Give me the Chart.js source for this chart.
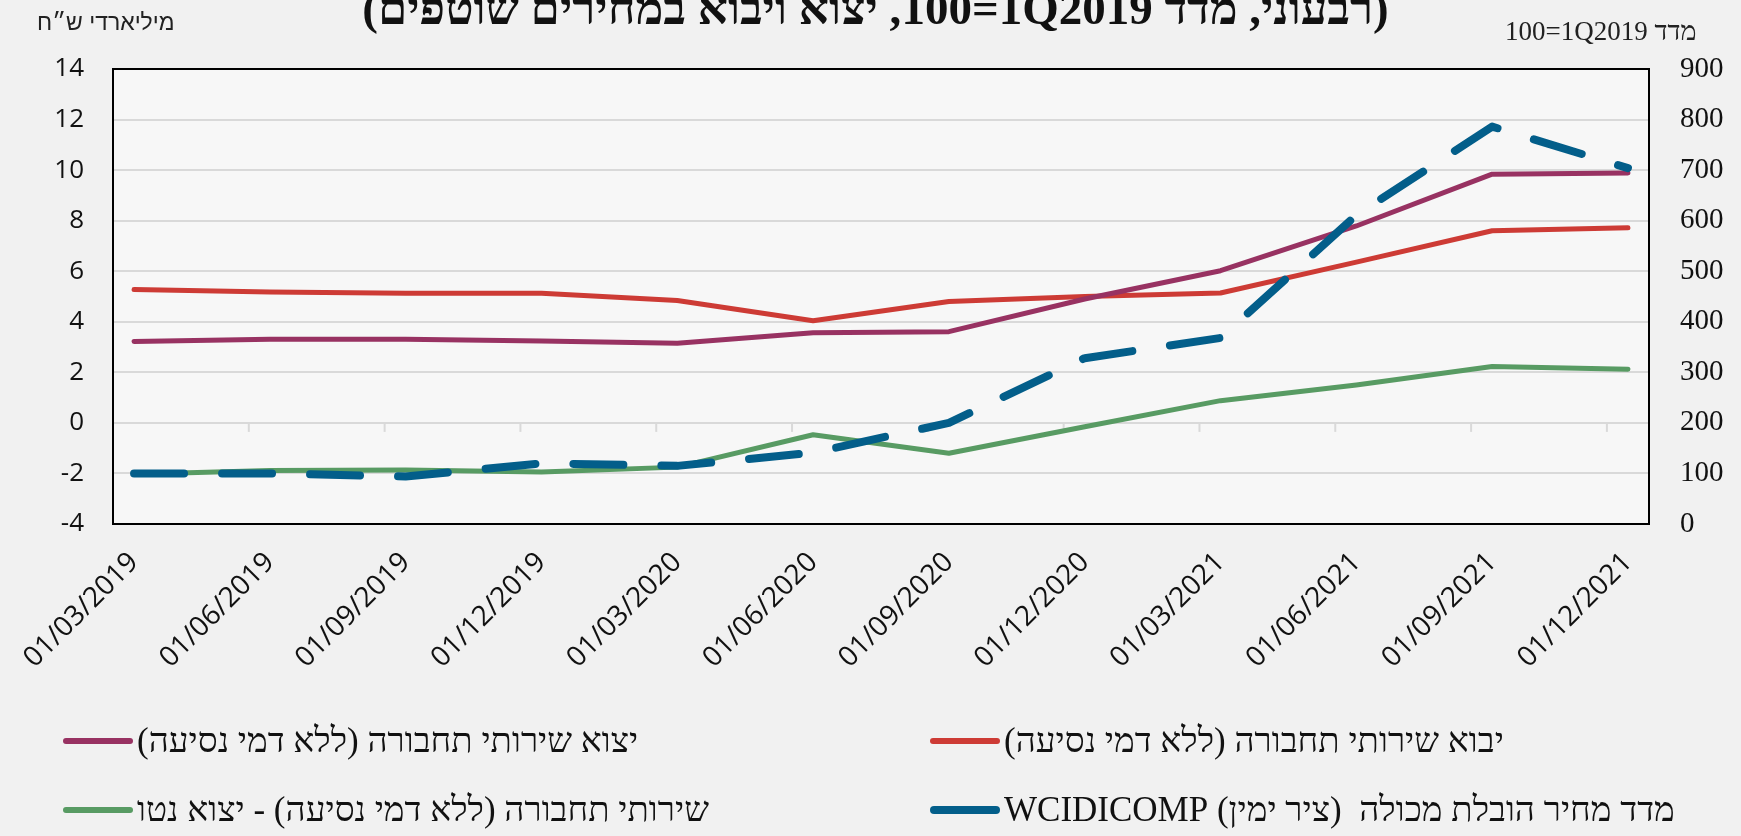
<!DOCTYPE html>
<html lang="he">
<head>
<meta charset="utf-8">
<script src="https://cdn.jsdelivr.net/npm/chart.js@4.4.1/dist/chart.umd.min.js"></script>
<style>
  html, body { margin: 0; padding: 0; background: #f1f1f1; }
  #wrap { position: relative; width: 1741px; height: 836px; overflow: hidden; }
  #chart { position: absolute; left: 0; top: 0; }
  .title {
    position: absolute; left: 5px; width: 1741px; top: -19px; line-height: 1;
    text-align: center; direction: rtl;
    font: bold 47px "Liberation Serif", serif; color: #111;
  }
  .axis-title { position: absolute; direction: rtl; color: #222; white-space: nowrap; }
  #yl-title { left: 37px; top: 9px; font: 23px "Liberation Sans", sans-serif; }
  #yr-title { left: 1505px; top: 16px; font: 27px "Liberation Serif", serif; }
  #legend { position: absolute; left: 0; top: 0; width: 1741px; height: 836px; pointer-events: none; }
  .item { position: absolute; display: flex; align-items: center; height: 40px; }
  .swatch { width: 70px; border-radius: 4px; margin-right: 4px; }
  .item span { direction: rtl; font: 35px "Liberation Serif", serif; color: #111; white-space: pre; }
</style>
</head>
<body>
<div id="wrap">
  <canvas id="chart" width="1741" height="836"></canvas>
  <div class="title">(רבעוני, מדד <span dir="ltr">100=1Q2019</span>, יצוא ויבוא במחירים שוטפים)</div>
  <div class="axis-title" id="yl-title">מיליארדי ש״ח</div>
  <div class="axis-title" id="yr-title">מדד <span dir="ltr">100=1Q2019</span></div>
  <div id="legend"></div>
</div>
<script>
// ===== DATA =====
const labels = [
  "01/03/2019", "01/06/2019", "01/09/2019", "01/12/2019",
  "01/03/2020", "01/06/2020", "01/09/2020", "01/12/2020",
  "01/03/2021", "01/06/2021", "01/09/2021", "01/12/2021",
];

// billions NIS (left axis)
const importTransport = [5.28, 5.18, 5.13, 5.13, 4.84, 4.04, 4.8, 5.0, 5.14, 6.36, 7.6, 7.72];
const exportTransport = [3.22, 3.31, 3.31, 3.24, 3.15, 3.57, 3.61, 4.9, 6.02, 7.79, 9.84, 9.89];
const netExport = [-2.03, -1.88, -1.86, -1.94, -1.75, -0.47, -1.2, -0.15, 0.88, 1.5, 2.23, 2.12];

// index 100=1Q2019 (right axis)
const containerIndex = [100, 100, 94, 120, 115, 141, 200, 328, 368, 611, 786, 704];

const leftTicks = [-4, -2, 0, 2, 4, 6, 8, 10, 12, 14];
const rightTicks = [0, 100, 200, 300, 400, 500, 600, 700, 800, 900];

const names = {
  export: "יצוא שירותי תחבורה (ללא דמי נסיעה)",
  import: "יבוא שירותי תחבורה (ללא דמי נסיעה)",
  net: "שירותי תחבורה (ללא דמי נסיעה) - יצוא נטו",
  index: "מדד מחיר הובלת מכולה  (ציר ימין) WCIDICOMP",
};

const colors = {
  import: "#cd3b35",
  export: "#983262",
  net: "#589b63",
  index: "#035e8a",
};

// ===== CHART =====
const toPoints = (arr) => arr.map((v, i) => ({ x: i, y: v }));

const framePlugin = {
  id: "frame",
  beforeDraw(chart) {
    const { ctx, chartArea: a } = chart;
    ctx.save();
    ctx.fillStyle = "#f7f7f7";
    ctx.fillRect(a.left, a.top, a.right - a.left, a.bottom - a.top);
    ctx.restore();
  },
  beforeDatasetsDraw(chart) {
    // small tick marks hanging from the zero line
    const { ctx, scales } = chart;
    const y0 = scales.y.getPixelForValue(0);
    ctx.save();
    ctx.strokeStyle = "#d9d9d9";
    ctx.lineWidth = 2;
    for (let k = 1; k < labels.length; k++) {
      const px = scales.x.getPixelForValue(scales.x.min + k);
      ctx.beginPath();
      ctx.moveTo(px, y0);
      ctx.lineTo(px, y0 + 9);
      ctx.stroke();
    }
    ctx.restore();
  },
  afterDraw(chart) {
    const { ctx, chartArea: a } = chart;
    ctx.save();
    ctx.strokeStyle = "#000";
    ctx.lineWidth = 2;
    ctx.strokeRect(a.left, a.top, a.right - a.left, a.bottom - a.top);
    ctx.restore();
  },
};

const chart = new Chart(document.getElementById("chart"), {
  type: "line",
  data: {
    datasets: [
      {
        label: names.index,
        data: toPoints(containerIndex),
        yAxisID: "y2",
        borderColor: colors.index,
        borderWidth: 8,
        borderDash: [50, 38],
        borderCapStyle: "round",
        order: 0,
      },
      {
        label: names.export,
        data: toPoints(exportTransport),
        yAxisID: "y",
        borderColor: colors.export,
        borderWidth: 5,
        order: 1,
      },
      {
        label: names.import,
        data: toPoints(importTransport),
        yAxisID: "y",
        borderColor: colors.import,
        borderWidth: 5,
        order: 2,
      },
      {
        label: names.net,
        data: toPoints(netExport),
        yAxisID: "y",
        borderColor: colors.net,
        borderWidth: 5,
        order: 3,
      },
    ],
  },
  options: {
    responsive: false,
    animation: false,
    layout: { padding: { top: 69, left: 0, right: 0, bottom: 0 } },
    elements: {
      point: { radius: 0, hoverRadius: 0 },
      line: { tension: 0, borderCapStyle: "round", borderJoinStyle: "round" },
    },
    plugins: {
      legend: { display: false },
      tooltip: { enabled: false },
    },
    scales: {
      x: {
        type: "linear",
        min: -0.155,
        max: labels.length - 1 + 0.155,
        afterBuildTicks: (s) => {
          s.ticks = labels.map((_, i) => ({ value: i }));
        },
        afterFit: (s) => {
          s.height = 312;
        },
        grid: { display: false },
        border: { display: false },
        ticks: {
          autoSkip: false,
          minRotation: 45,
          maxRotation: 45,
          padding: 14,
          color: "#111",
          font: { family: "Open Sans", size: 28 },
          callback: (v) => labels[v],
        },
      },
      y: {
        position: "left",
        min: leftTicks[0],
        max: leftTicks[leftTicks.length - 1],
        afterBuildTicks: (s) => {
          s.ticks = leftTicks.map((v) => ({ value: v }));
        },
        afterFit: (s) => {
          s.width = 113;
        },
        grid: { color: "#d9d9d9", lineWidth: 2, drawTicks: false },
        border: { display: false },
        ticks: {
          padding: 29,
          color: "#111",
          font: { family: "Open Sans", size: 26 },
        },
      },
      y2: {
        position: "right",
        min: rightTicks[0],
        max: rightTicks[rightTicks.length - 1],
        afterBuildTicks: (s) => {
          s.ticks = rightTicks.map((v) => ({ value: v }));
        },
        afterFit: (s) => {
          s.width = 92;
        },
        grid: { display: false, drawTicks: false },
        border: { display: false },
        ticks: {
          padding: 31,
          color: "#111",
          font: { family: "Liberation Serif", size: 29 },
        },
      },
    },
  },
  plugins: [framePlugin],
});

// ===== LEGEND =====
// two columns, RTL reading: import | export on top, index | net below
function renderLegend() {
  const legend = document.getElementById("legend");
  const layout = [
    { ds: 1, left: 63, top: 721 },
    { ds: 3, left: 63, top: 790 },
    { ds: 2, left: 930, top: 721 },
    { ds: 0, left: 930, top: 790 },
  ];
  layout.forEach((pos) => {
    const ds = chart.data.datasets[pos.ds];
    const item = document.createElement("div");
    item.className = "item";
    item.style.left = pos.left + "px";
    item.style.top = pos.top + "px";
    item.innerHTML = `
      <div class="swatch" style="height:${ds.borderWidth === 8 ? 8 : 6}px;background:${ds.borderColor}"></div>
      <span>${ds.label}</span>
    `;
    legend.appendChild(item);
  });
}

renderLegend();
</script>
</body>
</html>
